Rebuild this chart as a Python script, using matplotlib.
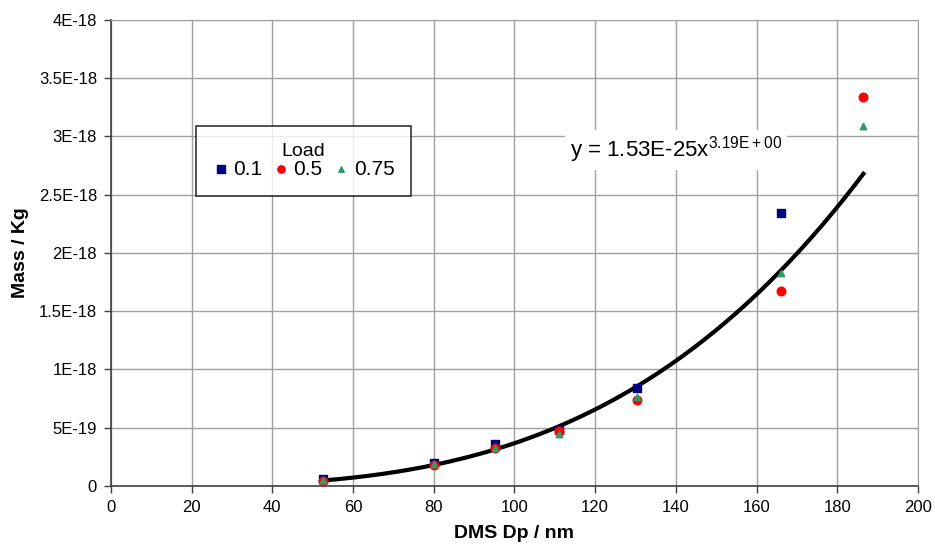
import matplotlib.pyplot as plt
import numpy as np

plt.rcParams["font.family"] = ["Liberation Sans", "DejaVu Sans"]

# particle mobility diameter (nm) and mass (kg) for each engine load
dp_01 = [52.5, 80, 95.3, 111, 130.3, 166]
mass_01 = [6.0e-20, 2.0e-19, 3.6e-19, 4.8e-19, 8.4e-19, 2.34e-18]

dp_05 = [52.5, 80, 95.3, 111, 130.3, 166, 186.5]
mass_05 = [4.0e-20, 1.8e-19, 3.3e-19, 4.7e-19, 7.4e-19, 1.67e-18, 3.34e-18]

dp_075 = [52.5, 80, 95.3, 111, 130.3, 166, 186.5]
mass_075 = [5.0e-20, 1.9e-19, 3.3e-19, 4.5e-19, 7.6e-19, 1.83e-18, 3.09e-18]

# power-law fit y = a * x^b
fit_a = 1.53e-25
fit_b = 3.19
fit_range = (52.5, 186.5)

y_ticks = [0, 5e-19, 1e-18, 1.5e-18, 2e-18, 2.5e-18, 3e-18, 3.5e-18, 4e-18]
y_tick_labels = ["0", "5E-19", "1E-18", "1.5E-18", "2E-18", "2.5E-18", "3E-18", "3.5E-18", "4E-18"]
x_ticks = list(range(0, 201, 20))

fig = plt.figure(figsize=(9.35, 5.51), dpi=100)
ax = fig.add_axes([0.1187, 0.118, 0.863, 0.8457])

ax.set_xlim(0, 200)
ax.set_ylim(0, 4e-18)
ax.set_xticks(x_ticks)
ax.set_yticks(y_ticks)
ax.set_yticklabels(y_tick_labels)
ax.grid(True, color="#a0a0a0", linewidth=1.0)
ax.set_axisbelow(True)

for side in ["top", "right"]:
    ax.spines[side].set_color("#a0a0a0")
for side in ["left", "bottom"]:
    ax.spines[side].set_color("#404040")
    ax.spines[side].set_linewidth(1.2)
ax.tick_params(direction="out", length=5, width=1, color="#404040", labelsize=12, pad=5)

xs = np.linspace(fit_range[0], fit_range[1], 200)
ax.plot(xs, fit_a * xs ** fit_b, color="black", linewidth=3, zorder=2)

ax.scatter(dp_01, mass_01, marker="s", s=38, color="#000080", label="0.1", zorder=3)
ax.scatter(dp_05, mass_05, marker="o", s=38, color="#ff0000", label="0.5", zorder=3)
ax.scatter(dp_075, mass_075, marker="^", s=22, color="#339966", label="0.75", zorder=3)

leg = ax.legend(title="Load", ncol=3, loc="upper left", bbox_to_anchor=(0.105, 0.772),
                borderaxespad=0, fontsize=15, title_fontsize=14, frameon=True, fancybox=False,
                edgecolor="black", borderpad=0.8, columnspacing=0.5, handlelength=0.8,
                handletextpad=0.2, markerscale=0.85)
leg.get_frame().set_linewidth(1.2)
leg._legend_box.sep = 0

fig.text(676 / 935, 1 - 150 / 551, "y = 1.53E-25x$^{\\mathregular{3.19E+00}}$", fontsize=16,
         ha="center", va="center",
         bbox=dict(facecolor="white", edgecolor="none", pad=3))

ax.set_xlabel("DMS Dp / nm", fontsize=14, fontweight="bold", labelpad=7)
ax.set_ylabel("Mass / Kg", fontsize=14, fontweight="bold", labelpad=7)

fig.savefig("out.png", dpi=100)
